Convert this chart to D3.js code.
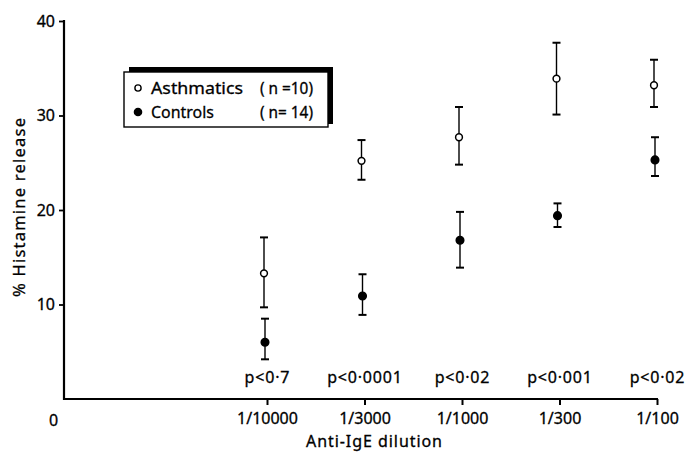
<!DOCTYPE html>
<html>
<head>
<meta charset="utf-8">
<script src="https://cdn.jsdelivr.net/npm/d3@7"></script>
<style>
  html, body { margin: 0; padding: 0; background: #fff; }
  svg { display: block; }
  text { font-family: "Noto Sans", "Liberation Sans", Arial, sans-serif; fill: #000; stroke: #000; stroke-width: 0.3px; }
</style>
</head>
<body>
<svg id="chart" width="685" height="452"></svg>
<script>
// ---- data ----
const categories = ["1/10000", "1/3000", "1/1000", "1/300", "1/100"];
const originLabel = "0";
const pValues = ["p<0·7", "p<0·0001", "p<0·02", "p<0·001", "p<0·02"];
const asthmaMean = [13.3, 25.2, 27.7, 33.9, 33.2];
const asthmaHigh = [17.1, 27.4, 30.9, 37.7, 35.9];
const asthmaLow  = [9.7, 23.2, 24.8, 30.1, 30.9];
const controlMean = [6.0, 10.9, 16.8, 19.4, 25.3];
const controlHigh = [8.5, 13.2, 19.8, 20.7, 27.7];
const controlLow  = [4.2, 8.9, 13.9, 18.2, 23.6];
const yTicks = [10, 20, 30, 40];
const legendNames = ["Asthmatics", "Controls"];
const legendCounts = ["( n =10)", "( n= 14)"];
const yTitle = "% Histamine release";
const xTitle = "Anti-IgE dilution";

// ---- layout ----
const FONT = "Noto Sans, Liberation Sans, Arial, sans-serif";
const svg = d3.select("#chart");
const y = d3.scaleLinear().domain([0, 40]).range([399, 21]);
const x = d3.scaleLinear().domain([0, categories.length - 1]).range([267, 657]);
const axisX0 = 64, axisXEnd = 658, originIdx = -2.19;

// Y axis
const yAxis = d3.axisLeft(y).tickValues(yTicks).tickSize(5).tickPadding(4).tickFormat(d3.format("d"));
const gy = svg.append("g").attr("transform", `translate(${axisX0},0)`).call(yAxis);
gy.select(".domain").remove();
gy.selectAll(".tick line").attr("stroke", "#000").attr("stroke-width", 1.8);
gy.selectAll(".tick text").attr("font-size", 16).attr("font-family", FONT).attr("fill", "#000")
  .attr("stroke", "#000").attr("stroke-width", 0.3);
svg.append("line").attr("x1", axisX0).attr("x2", axisX0).attr("y1", y(40) - 1).attr("y2", y(0) + 1)
  .attr("stroke", "#000").attr("stroke-width", 2.2);

// X axis
svg.append("line").attr("x1", axisX0 - 1).attr("x2", axisXEnd).attr("y1", y(0)).attr("y2", y(0))
  .attr("stroke", "#000").attr("stroke-width", 2.2);
const xAxis = d3.axisBottom(x).tickValues(d3.range(categories.length)).tickSize(6).tickPadding(8)
  .tickFormat(i => categories[i]);
const gx = svg.append("g").attr("transform", `translate(0,${y(0)})`).call(xAxis);
gx.select(".domain").remove();
gx.selectAll(".tick line").attr("stroke", "#000").attr("stroke-width", 2);
gx.selectAll(".tick text").attr("font-size", 16).attr("font-family", FONT)
  .attr("fill", "#000").attr("stroke", "#000").attr("stroke-width", 0.3);
svg.append("text").attr("x", x(originIdx)).attr("y", 426).attr("text-anchor", "middle")
  .attr("font-size", 16).text(originLabel);

// Axis titles
svg.append("text").attr("x", 374).attr("y", 447).attr("text-anchor", "middle")
  .attr("font-size", 16).attr("textLength", 136).attr("lengthAdjust", "spacing").text(xTitle);
svg.append("text").attr("transform", "translate(25,207.5) rotate(-90)").attr("text-anchor", "middle")
  .attr("font-size", 16.5).attr("textLength", 179).attr("lengthAdjust", "spacing").text(yTitle);

// p-values
const pls = 0.8;
svg.selectAll(".pval").data(pValues).join("text").attr("class", "pval")
  .attr("x", (d, i) => x(i) + pls / 2).attr("y", 383).attr("text-anchor", "middle")
  .attr("font-size", 16).attr("letter-spacing", pls).text(d => d);

// Error bars and points
function series(mean, low, high, filled, dx) {
  const g = svg.append("g");
  const idx = d3.range(mean.length);
  g.selectAll(".bar").data(idx).join("line")
    .attr("x1", i => x(i) + dx).attr("x2", i => x(i) + dx)
    .attr("y1", i => y(low[i])).attr("y2", i => y(high[i]))
    .attr("stroke", "#000").attr("stroke-width", 1.4);
  [low, high].forEach(arr => {
    g.selectAll(null).data(idx).join("line")
      .attr("x1", i => x(i) + dx - 4).attr("x2", i => x(i) + dx + 4)
      .attr("y1", i => y(arr[i])).attr("y2", i => y(arr[i]))
      .attr("stroke", "#000").attr("stroke-width", 2);
  });
  g.selectAll("circle").data(idx).join("circle")
    .attr("cx", i => x(i) + dx).attr("cy", i => y(mean[i]))
    .attr("r", filled ? 3.8 : 3.4)
    .attr("fill", filled ? "#000" : "#fff")
    .attr("stroke", "#000").attr("stroke-width", 1.5);
}
series(asthmaMean, asthmaLow, asthmaHigh, false, -3);
series(controlMean, controlLow, controlHigh, true, -2);

// Legend
const lg = svg.append("g");
lg.append("rect").attr("x", 129).attr("y", 67).attr("width", 204).attr("height", 57).attr("fill", "#000");
lg.append("rect").attr("x", 124).attr("y", 72).attr("width", 204).attr("height", 55)
  .attr("fill", "#fff").attr("stroke", "#000").attr("stroke-width", 1.4);
const rowsY = [88, 112];
lg.selectAll(".lm").data(legendNames).join("circle").attr("class", "lm")
  .attr("cx", 138).attr("cy", (d, i) => rowsY[i]).attr("r", (d, i) => i ? 3.6 : 3.1)
  .attr("fill", (d, i) => i ? "#000" : "#fff").attr("stroke", "#000").attr("stroke-width", 1.4);
const nameLen = [92, 63];
lg.selectAll(".ln").data(legendNames).join("text").attr("class", "ln")
  .attr("x", 151).attr("y", (d, i) => rowsY[i] + 5.5).attr("font-size", 17)
  .attr("textLength", (d, i) => nameLen[i]).attr("lengthAdjust", "spacingAndGlyphs").text(d => d);
lg.selectAll(".lc").data(legendCounts).join("text").attr("class", "lc")
  .attr("x", 260).attr("y", (d, i) => rowsY[i] + 5.5).attr("font-size", 16)
  .attr("textLength", 53).attr("lengthAdjust", "spacingAndGlyphs").text(d => d);
</script>
</body>
</html>
